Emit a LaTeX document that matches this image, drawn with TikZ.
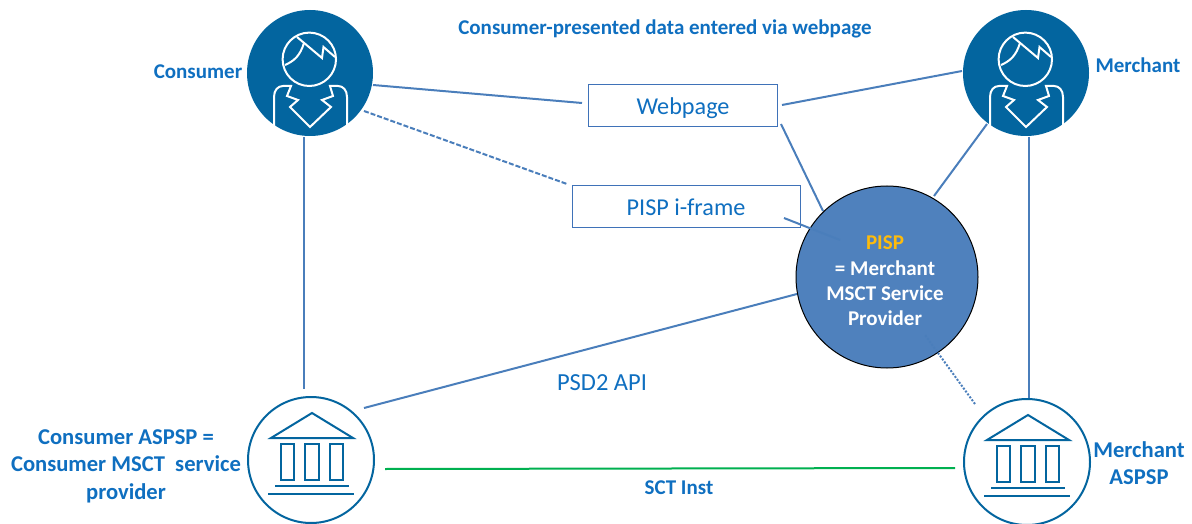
\documentclass[tikz,border=0pt]{standalone}
\usepackage{fontspec}
\setmainfont{Carlito}
\definecolor{iconblue}{HTML}{03659F}
\definecolor{linkblue}{HTML}{4A7EBB}
\definecolor{pispfill}{HTML}{4F81BD}
\definecolor{labelblue}{HTML}{0F6FC0}
\definecolor{boxblue}{HTML}{3F72B8}
\definecolor{goldtxt}{HTML}{FDBB0C}
\definecolor{greenline}{HTML}{00B050}
\tikzset{
  lbl/.style={text=labelblue,font=\bfseries\fontsize{21}{27.5}\selectfont,align=center,inner sep=0pt},
  lblbig/.style={lbl,font=\bfseries\fontsize{22.6}{27.5}\selectfont},
  conn/.style={draw=linkblue,line width=2pt},
  boxnode/.style={draw=boxblue,fill=white,line width=1pt,minimum height=42pt,inner sep=0pt},
  boxtext/.style={text=labelblue,font=\fontsize{24.2}{28}\selectfont,inner sep=0pt},
  personbg/.style={circle,fill=iconblue,minimum size=126pt,inner sep=0pt},
  bankbg/.style={circle,draw=iconblue,fill=white,line width=2pt,minimum size=126pt,inner sep=0pt},
  iconline/.style={draw=white,line width=2pt,line join=miter},
  bankline/.style={draw=iconblue,line width=2pt},
  pics/personicon/.style={code={
    \draw[iconline] (-0.7,-13.7) circle (26.7);
    \draw[iconline] (-13,-36) -- (12,-15) -- (13.5,-26) -- (25,-16);
    \draw[iconline] (-6,-30) .. controls (-10,-17) and (-16,-12) .. (-25,-8);
    \draw[iconline] (-36,54) -- (-36,24) .. controls (-36,17) and (-32,13) .. (-27,13) -- (-19,13)
      -- (-23,23) -- (-12,27) -- (-20,34) -- (0,54) -- (21,34) -- (12,27) -- (23,23) -- (20,13)
      -- (28,13) .. controls (33,13) and (37,17) .. (37,24) -- (37,54);
  }},
  pics/bankicon/.style={code={
    \draw[bankline,line join=miter] (-40,-22) -- (1,-47) -- (42,-22) -- cycle;
    \draw[bankline] (-30,-16) rectangle (-17,20);
    \draw[bankline] (-6,-16) rectangle (8,20);
    \draw[bankline] (19,-16) rectangle (32,20);
    \draw[bankline] (-36,26) -- (38,26);
    \draw[bankline] (-43,34) -- (43,34);
  }}
}
\begin{document}
\begin{tikzpicture}[x=1pt,y=-1pt]
\useasboundingbox (0,0) rectangle (1192,524);
\node[boxnode,minimum width=189pt] (web) at (682.5,106) {};
\node[boxtext] (webtxt) at (683,108) {Webpage};
\node[boxnode,minimum width=228pt] (frame) at (686,206.5) {};
\node[boxtext] (frametxt) at (686,207.5) {PISP i-frame};
\node[personbg] (cons) at (310,73) {};
\node[personbg] (merc) at (1026,73) {};
\node[bankbg] (cbank) at (311,460) {};
\node[bankbg] (mbank) at (1027,462) {};
\pic at (cons.center) {personicon};
\pic at (merc.center) {personicon};
\pic at (cbank.center) {bankicon};
\pic at (mbank.center) {bankicon};
\node[circle,draw=black,fill=pispfill,line width=1pt,minimum size=182pt,inner sep=0pt] (pisp) at (887,277) {};
\node[lbl,text=goldtxt] (pisptitle) at (885,243) {PISP};
\node[lbl,text=white,anchor=center,font=\bfseries\fontsize{21}{25}\selectfont] (pisptext) at (885,293) {= Merchant\\MSCT Service\\Provider};
% connector ends
\coordinate (c1a) at (373,85);   \coordinate (c1b) at (582,103);
\coordinate (c2a) at (782,105);  \coordinate (c2b) at (962,71);
\coordinate (c3a) at (364,111);  \coordinate (c3b) at (567,184);
\coordinate (c4a) at (784,218);  \coordinate (c4b) at (840,240);
\coordinate (c5a) at (781,124);  \coordinate (c5b) at (823,211);
\coordinate (c6a) at (987,124);  \coordinate (c6b) at (934,196);
\coordinate (c7a) at (364,408);  \coordinate (c7b) at (797,294);
\coordinate (c8a) at (975,404);  \coordinate (c8b) at (925,335);
\coordinate (c9a) at (304,137);  \coordinate (c9b) at (304,389);
\coordinate (c10a) at (1029,137);\coordinate (c10b) at (1029,398);
\coordinate (c11a) at (385,469); \coordinate (c11b) at (955,468);
\draw[conn] (c1a) -- (c1b);
\draw[conn] (c2a) -- (c2b);
\draw[conn,dash pattern=on 5pt off 2pt] (c3a) -- (c3b);
\draw[conn] (c4a) -- (c4b);
\draw[conn] (c5a) -- (c5b);
\draw[conn] (c6a) -- (c6b);
\draw[conn] (c7a) -- (c7b);
\draw[conn,dash pattern=on 2pt off 1.6pt] (c8a) -- (c8b);
\draw[conn] (c9a) -- (c9b);
\draw[conn] (c10a) -- (c10b);
\draw[draw=greenline,line width=2pt] (c11a) -- (c11b);
% labels
\node[lbl] (title) at (665,28.5) {Consumer-presented data entered via webpage};
\node[lbl] (lcons) at (198,72) {Consumer};
\node[lbl] (lmerc) at (1138,65) {Merchant};
\node[lblbig] (lcbank) at (126,466) {Consumer ASPSP =\\Consumer MSCT\ \ service\\provider};
\node[lblbig] (lmbank) at (1139,463) {Merchant\\ASPSP};
\node[lbl] (lsct) at (679,488) {SCT Inst};
\node[lbl,font=\fontsize{24.5}{28}\selectfont] (lpsd) at (602,383) {PSD2 API};
\end{tikzpicture}
\end{document}
